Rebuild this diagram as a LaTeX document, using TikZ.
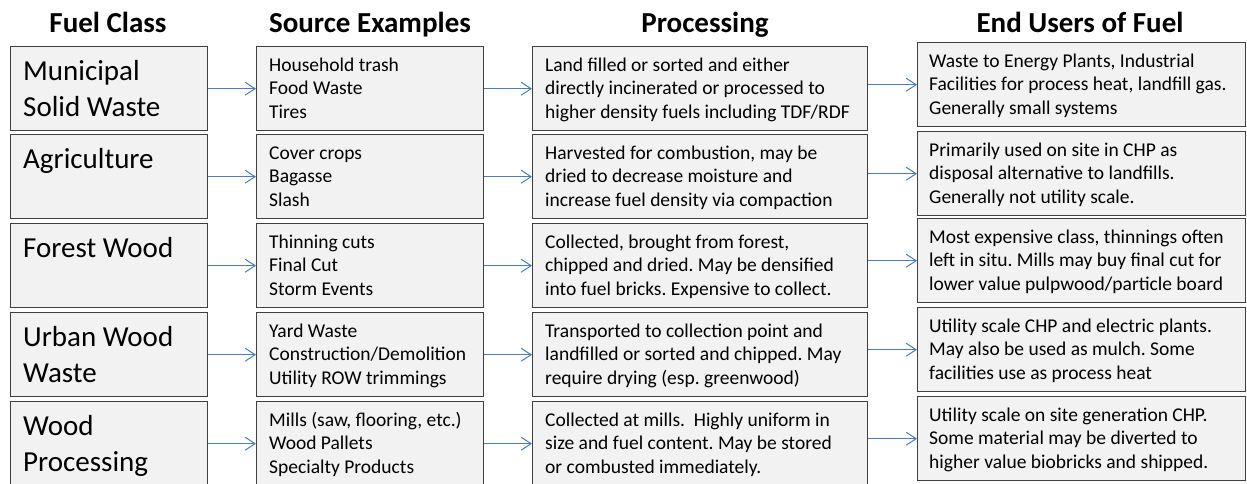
\documentclass[tikz,border=0pt]{standalone}
\usepackage{fontspec}
\setmainfont{Carlito}
\usetikzlibrary{arrows.meta,calc}
\frenchspacing
\definecolor{boxfill}{HTML}{F2F2F2}
\definecolor{boxline}{HTML}{3F3F3F}
\definecolor{arrblue}{HTML}{4A7EBB}
\newcommand{\smalltxt}[1]{\parbox[t]{340pt}{\fontsize{19.5pt}{23.5pt}\selectfont\raggedright #1}}
\newcommand{\bigtxt}[1]{\parbox[t]{190pt}{\fontsize{29pt}{36pt}\selectfont\raggedright #1}}
\tikzset{
  cellbox/.style={draw=boxline, fill=boxfill, line width=1.4pt, inner sep=0pt, anchor=north west, minimum height=84pt},
  colA/.style={cellbox, minimum width=197pt},
  colB/.style={cellbox, minimum width=227pt},
  colC/.style={cellbox, minimum width=335pt},
  colD/.style={cellbox, minimum width=328pt},
  txt/.style={inner sep=0pt, anchor=base west},
  head/.style={inner sep=0pt, anchor=base, font=\fontsize{29pt}{34pt}\selectfont\bfseries},
  flow/.style={draw=arrblue, line width=1pt, -{Straight Barb[length=10pt,width=13pt,line width=1pt]}}
}
\begin{document}
\begin{tikzpicture}[x=1pt,y=-1pt]
\useasboundingbox (0,0) rectangle (1247,483);
\clip (0,0) rectangle (1247,483);
% headers
\node[head] (h1) at (108,32) {Fuel Class};
\node[head] (h2) at (370,32) {Source Examples};
\node[head] (h3) at (705,32) {Processing};
\node[head] (h4) at (1080,32) {End Users of Fuel};
% boxes
\foreach \i/\t/\u in {1/46/42, 2/134/131, 3/223/218, 4/312/307, 5/401/396}{
  \node[colA] (a\i) at (10,\t) {};
  \node[colB] (b\i) at (256,\t) {};
  \node[colC] (c\i) at (532,\t) {};
  \node[colD] (d\i) at (917,\u) {};
}
% column 1 texts
\node[txt] (ta1) at ($(a1.north west)+(13,34)$) {\bigtxt{Municipal\\Solid Waste}};
\node[txt] (ta2) at ($(a2.north west)+(13,34)$) {\bigtxt{Agriculture}};
\node[txt] (ta3) at ($(a3.north west)+(13,34)$) {\bigtxt{Forest Wood}};
\node[txt] (ta4) at ($(a4.north west)+(13,34)$) {\bigtxt{Urban Wood\\Waste}};
\node[txt] (ta5) at ($(a5.north west)+(13,34)$) {\bigtxt{Wood\\Processing}};
% column 2 texts
\node[txt] (tb1) at ($(b1.north west)+(13,25)$) {\smalltxt{Household trash\\Food Waste\\Tires}};
\node[txt] (tb2) at ($(b2.north west)+(13,25)$) {\smalltxt{Cover crops\\Bagasse\\Slash}};
\node[txt] (tb3) at ($(b3.north west)+(13,25)$) {\smalltxt{Thinning cuts\\Final Cut\\Storm Events}};
\node[txt] (tb4) at ($(b4.north west)+(13,25)$) {\smalltxt{Yard Waste\\Construction/Demolition\\Utility ROW trimmings}};
\node[txt] (tb5) at ($(b5.north west)+(13,25)$) {\smalltxt{Mills (saw, flooring, etc.)\\Wood Pallets\\Specialty Products}};
% column 3 texts
\node[txt] (tc1) at ($(c1.north west)+(13,25)$) {\smalltxt{Land filled or sorted and either\\directly incinerated or processed to\\higher density fuels including TDF/RDF}};
\node[txt] (tc2) at ($(c2.north west)+(13,25)$) {\smalltxt{Harvested for combustion, may be\\dried to decrease moisture and\\increase fuel density via compaction}};
\node[txt] (tc3) at ($(c3.north west)+(13,25)$) {\smalltxt{Collected, brought from forest,\\chipped and dried. May be densified\\into fuel bricks. Expensive to collect.}};
\node[txt] (tc4) at ($(c4.north west)+(13,25)$) {\smalltxt{Transported to collection point and\\landfilled or sorted and chipped. May\\require drying (esp. greenwood)}};
\node[txt] (tc5) at ($(c5.north west)+(13,25)$) {\smalltxt{Collected at mills.\ \ Highly uniform in\\size and fuel content. May be stored\\or combusted immediately.}};
% column 4 texts
\node[txt] (td1) at ($(d1.north west)+(12,25)$) {\smalltxt{Waste to Energy Plants, Industrial\\Facilities for process heat, landfill gas.\\Generally small systems}};
\node[txt] (td2) at ($(d2.north west)+(12,25)$) {\smalltxt{Primarily used on site in CHP as\\disposal alternative to landfills.\\Generally not utility scale.}};
\node[txt] (td3) at ($(d3.north west)+(12,25)$) {\smalltxt{Most expensive class, thinnings often\\left in situ. Mills may buy final cut for\\lower value pulpwood/particle board}};
\node[txt] (td4) at ($(d4.north west)+(12,25)$) {\smalltxt{Utility scale CHP and electric plants.\\May also be used as mulch. Some\\facilities use as process heat}};
\node[txt] (td5) at ($(d5.north west)+(12,25)$) {\smalltxt{Utility scale on site generation CHP.\\Some material may be diverted to\\higher value biobricks and shipped.}};
% connectors
\foreach \i in {1,...,5}{
  \draw[flow] (a\i.east |- b\i.west) -- (b\i.west);
  \draw[flow] (b\i.east |- c\i.west) -- (c\i.west);
  \draw[flow] (c\i.east |- d\i.west) -- (d\i.west);
}
\end{tikzpicture}
\end{document}
